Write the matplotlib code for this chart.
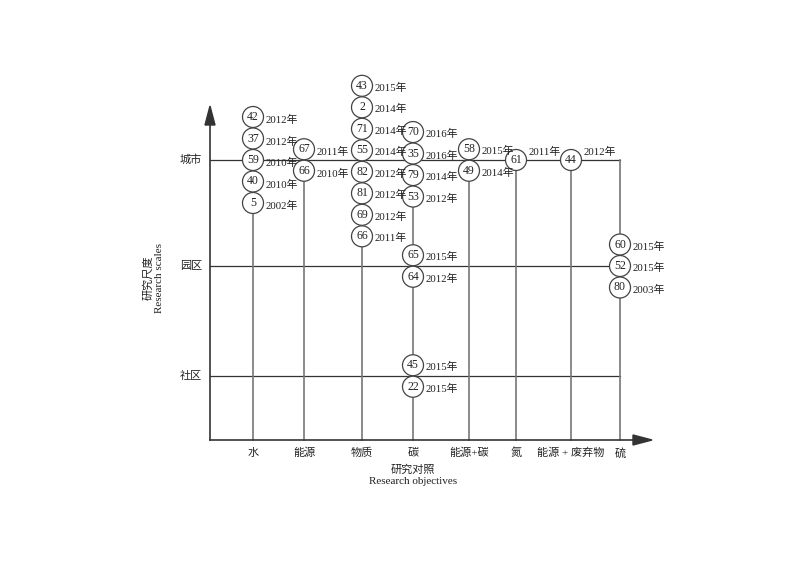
import matplotlib
matplotlib.use('Agg')
import matplotlib.pyplot as plt
from matplotlib.patches import Circle, Polygon

plt.rcParams['font.family'] = ['Liberation Serif', 'Noto Sans CJK SC']
plt.rcParams['text.color'] = '#222222'

# data
categories = ['水', '能源', '物质', '碳', '能源+碳', '氮', '能源 + 废弃物', '硫']
scales = ['城市', '园区', '社区']

# one group = stack of studies at (category, scale)
group_cat = [0, 1, 2, 3, 3, 3, 4, 5, 6, 7]
group_scale = [0, 0, 0, 0, 1, 2, 0, 0, 0, 1]
group_ids = [[42, 37, 59, 40, 5], [67, 66], [43, 2, 71, 55, 82, 81, 69, 66],
             [70, 35, 79, 53], [65, 64], [45, 22], [58, 49], [61], [44],
             [60, 52, 80]]
group_years = [[2012, 2012, 2010, 2010, 2002], [2011, 2010],
               [2015, 2014, 2014, 2014, 2012, 2012, 2012, 2011],
               [2016, 2016, 2014, 2012], [2015, 2012], [2015, 2015],
               [2015, 2014], [2011], [2012], [2015, 2015, 2003]]

# layout (pixel space of the figure)
cat_x = [253, 304, 362, 413, 469, 516, 571, 620]
scale_y = [160, 266, 376]
group_start = [-2, -0.5, -3.45, -1.3, -0.5, -0.5, -0.5, 0, 0, -1]
label_dy = [3, 3, 2, 2, 2, 2, 2, -8, -8, 2]
step = 21.5
rad = 10.5
x0, y0 = 210, 440
x_end = 620

fig = plt.figure(figsize=(8, 5.65), dpi=100)
ax = fig.add_axes([0, 0, 1, 1])
ax.set_xlim(0, 800)
ax.set_ylim(565, 0)
ax.axis('off')

# circle centres
centers = []
for g in range(len(group_ids)):
    cx = cat_x[group_cat[g]]
    cy = [scale_y[group_scale[g]] + (group_start[g] + i) * step
          for i in range(len(group_ids[g]))]
    centers.append((cx, cy))

# horizontal scale lines
for s, yy in enumerate(scale_y):
    ax.plot([x0, x_end], [yy, yy], color='#333333', lw=0.9, zorder=1)
    ax.text(x0 - 8, yy, scales[s], ha='right', va='center', fontsize=8)

# vertical category lines
for c, xx in enumerate(cat_x):
    tops = [max(centers[g][1]) for g in range(len(group_ids)) if group_cat[g] == c]
    top = min(tops)
    if c == len(cat_x) - 1:
        top = scale_y[0]
    ax.plot([xx, xx], [y0, top], color='#777777', lw=1.2, zorder=1)
    ax.text(xx, y0 + 13, categories[c], ha='center', va='center', fontsize=8)

# axes with arrows
ax.plot([x0, x0], [y0, 122], color='#333333', lw=1.2, zorder=2)
ax.plot([x0, 636], [y0, y0], color='#333333', lw=1.2, zorder=2)
ax.add_patch(Polygon([[x0 - 5, 125], [x0 + 5, 125], [x0, 106]], closed=True,
                     color='#333333', zorder=3))
ax.add_patch(Polygon([[633, y0 - 5], [633, y0 + 5], [652, y0]], closed=True,
                     color='#333333', zorder=3))

# circles and labels
for g in range(len(group_ids)):
    cx, cys = centers[g]
    for i, cy in enumerate(cys):
        ax.add_patch(Circle((cx, cy), rad, facecolor='white', edgecolor='#444444',
                            lw=0.9, zorder=4))
        ax.text(cx, cy, str(group_ids[g][i]), ha='center', va='center',
                fontsize=8.5, zorder=5)
        ax.text(cx + 13, cy + label_dy[g], '%d年' % group_years[g][i],
                ha='left', va='center', fontsize=7.8, zorder=5)

# axis titles
ax.text(413, 470, '研究对照', ha='center', va='center', fontsize=8)
ax.text(413, 482, 'Research objectives', ha='center', va='center', fontsize=8)
ax.text(148, 278, '研究尺度', ha='center', va='center', fontsize=8, rotation=90)
ax.text(160, 278, 'Research scales', ha='center', va='center', fontsize=8, rotation=90)

fig.savefig('out.png', dpi=100, facecolor='white')
